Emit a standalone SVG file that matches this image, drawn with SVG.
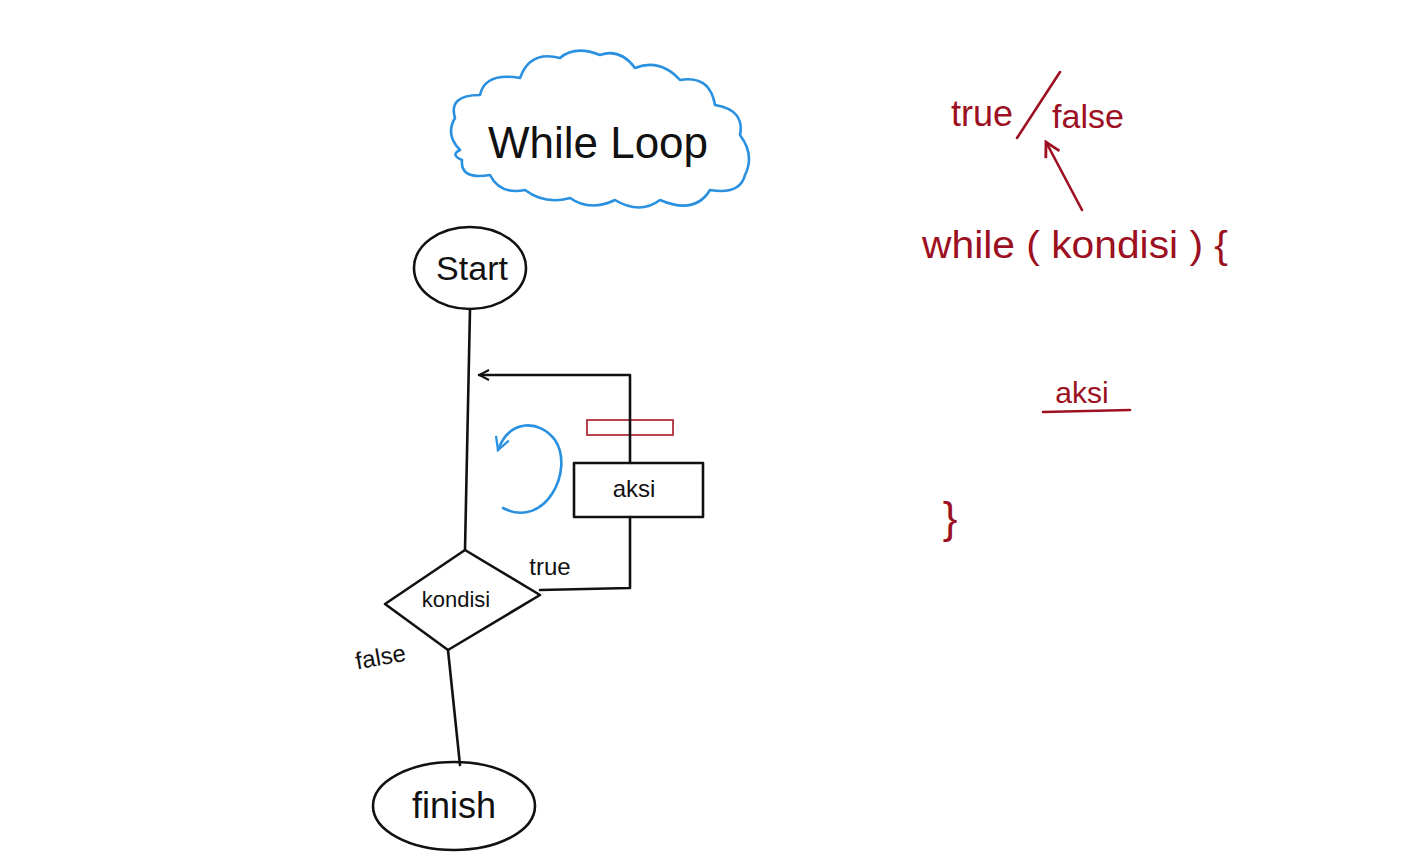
<svg xmlns="http://www.w3.org/2000/svg" width="1410" height="865" viewBox="0 0 1410 865">
<style>
.k{fill:none;stroke:#111;stroke-width:2.6;stroke-linecap:round;stroke-linejoin:round}
.b{fill:none;stroke:#2a90e0;stroke-width:2.6;stroke-linecap:round;stroke-linejoin:round}
.r{fill:none;stroke:#9c1022;stroke-width:2.6;stroke-linecap:round;stroke-linejoin:round}
.t{font-family:"Liberation Sans",Arial,sans-serif;fill:#111;text-anchor:middle}
.rt{font-family:"Liberation Sans",Arial,sans-serif;fill:#9c1022;text-anchor:middle}
</style>
<defs>
<marker id="ak" viewBox="0 0 12 12" refX="11" refY="6" markerWidth="12" markerHeight="12" markerUnits="userSpaceOnUse" orient="auto">
<path d="M1,1 L11,6 L1,11" fill="none" stroke="#111" stroke-width="2"/>
</marker>
<marker id="ab" viewBox="0 0 14 14" refX="12" refY="7" markerWidth="16" markerHeight="16" markerUnits="userSpaceOnUse" orient="auto">
<path d="M1,1 L12,7 L1,13" fill="none" stroke="#2a90e0" stroke-width="2"/>
</marker>
<marker id="ar" viewBox="0 0 14 14" refX="12" refY="7" markerWidth="18" markerHeight="18" markerUnits="userSpaceOnUse" orient="auto">
<path d="M1,1 L12,7 L1,13" fill="none" stroke="#9c1022" stroke-width="2.2"/>
</marker>
</defs>
<rect width="1410" height="865" fill="#fff"/>

<g id="title">
<path class="b" d="M460,150 Q445,135 455,118 Q448,95 480,95 Q485,72 520,78 Q530,50 560,58 Q575,45 600,55 Q620,48 635,68 Q660,58 680,80 Q710,75 715,105 Q745,110 740,135 Q755,155 745,175 Q740,195 710,190 Q695,215 660,200 Q640,215 615,200 Q590,212 570,198 Q545,205 525,190 Q500,195 490,175 Q460,180 462,160 Q450,155 460,150 Z"/>
<text class="t" x="598" y="158" font-size="44">While  Loop</text>
</g>

<g id="start">
<ellipse class="k" cx="470" cy="268" rx="56" ry="41"/>
<text class="t" x="472" y="280" font-size="34">Start</text>
</g>

<g id="kondisi">
<path class="k" d="M465,550 L540,595 L448,650 L385,604 Z"/>
<text class="t" x="456" y="607" font-size="22">kondisi</text>
</g>

<g id="aksi">
<rect class="k" x="574" y="463" width="129" height="54"/>
<text class="t" x="634" y="497" font-size="24">aksi</text>
</g>

<g id="finish">
<ellipse class="k" cx="454" cy="806" rx="81" ry="44"/>
<text class="t" x="454" y="818" font-size="36">finish</text>
</g>

<g id="decor">
<rect x="587" y="420" width="86" height="15" fill="none" stroke="#b0303c" stroke-width="1.8"/>
<path class="b" d="M503,508 C545,530 575,470 555,440 C540,420 510,418 498,450" marker-end="url(#ab)"/>
</g>

<g id="connectors">
<path class="k" d="M470,309 L465,550"/>
<path class="k" d="M540,590 L630,588 L630,517"/>
<path class="k" d="M630,463 L630,375 L479,375" marker-end="url(#ak)"/>
<path class="k" d="M448,650 L460,765"/>
</g>

<g id="labels">
<text class="t" x="550" y="575" font-size="24">true</text>
<text class="t" x="382" y="665" font-size="24" transform="rotate(-10 382 665)">false</text>
</g>

<g id="code">
<text class="rt" x="982" y="126" font-size="36">true</text>
<path class="r" d="M1017,138 L1060,72"/>
<text class="rt" x="1088" y="128" font-size="34">false</text>
<path class="r" d="M1082,210 L1046,142" marker-end="url(#ar)"/>
<text class="rt" x="1075" y="258" font-size="38" textLength="306" lengthAdjust="spacingAndGlyphs">while ( kondisi ) {</text>
<text class="rt" x="1082" y="403" font-size="30">aksi</text>
<path class="r" d="M1043,412 L1130,410"/>
<text class="rt" x="950" y="533" font-size="44">}</text>
</g>
</svg>
